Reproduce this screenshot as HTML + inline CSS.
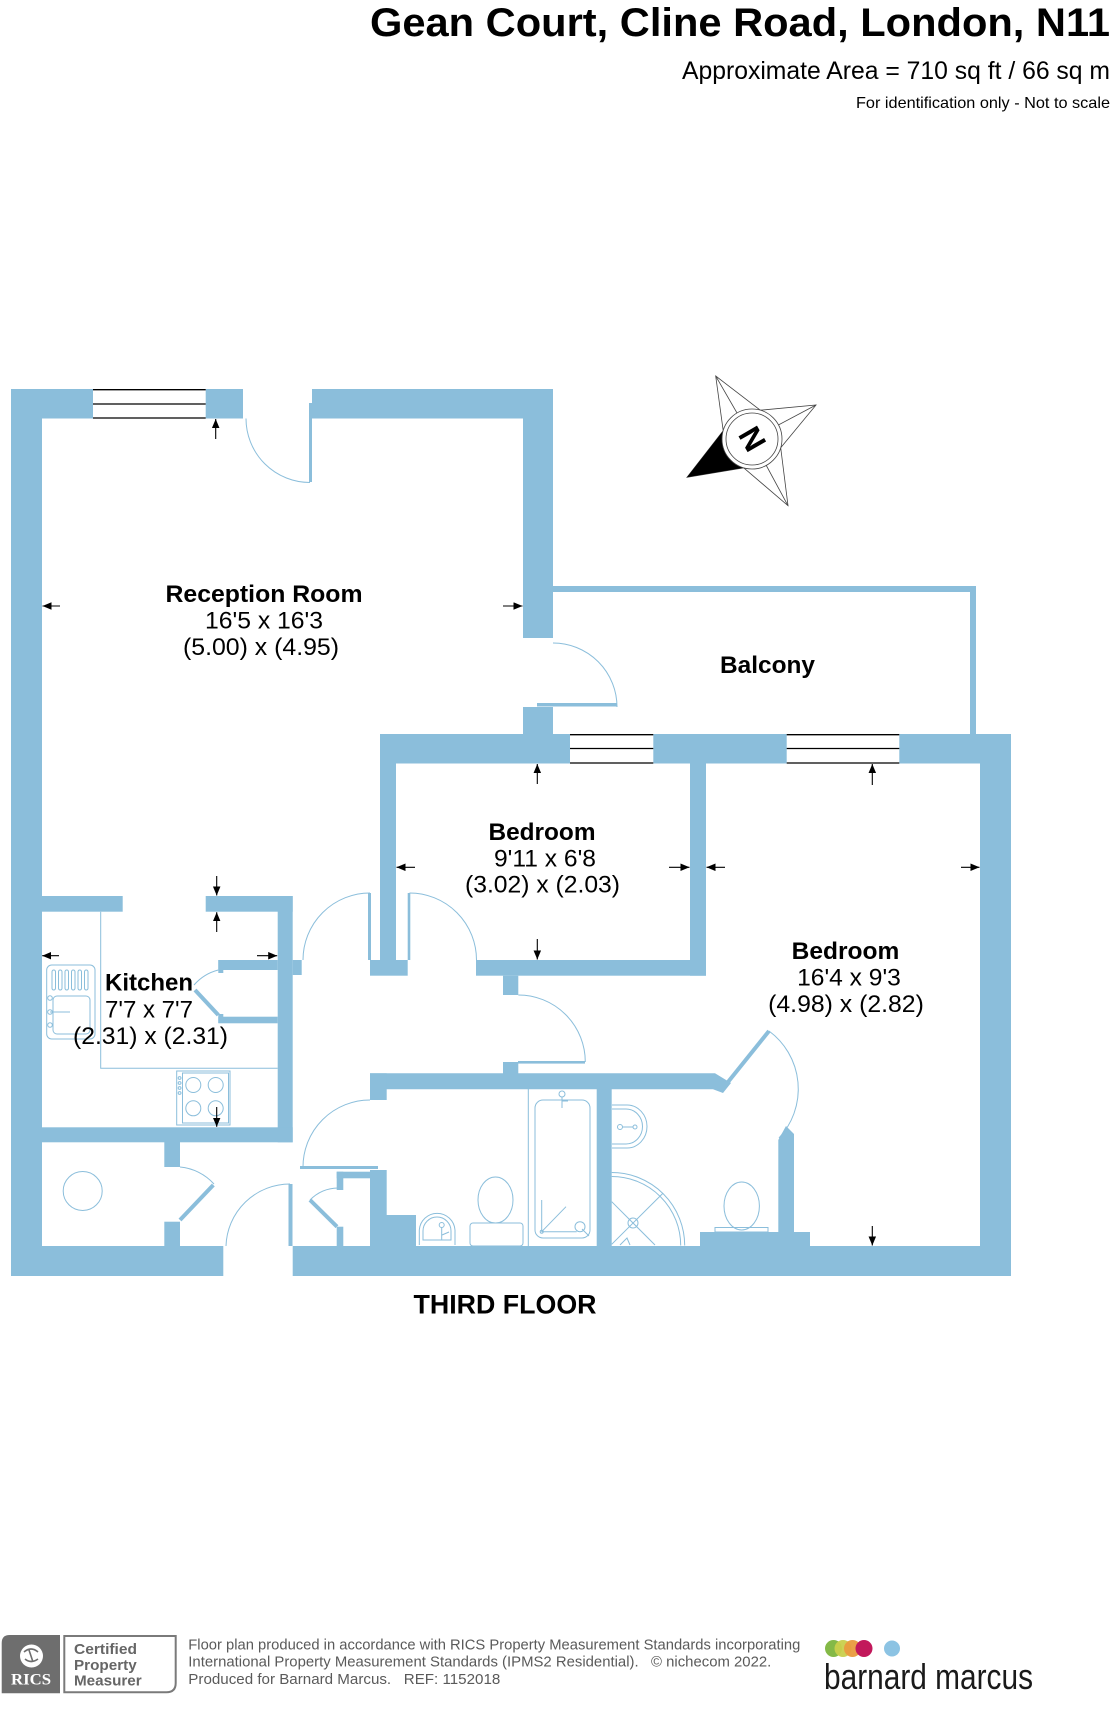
<!DOCTYPE html>
<html><head><meta charset="utf-8"><style>html,body{margin:0;padding:0;background:#fff}svg{display:block}</style></head>
<body>
<svg width="1120" height="1720" viewBox="0 0 1120 1720" xmlns="http://www.w3.org/2000/svg" font-family="'Liberation Sans', Arial, sans-serif">
<defs>
<marker id="ah" markerWidth="10" markerHeight="10" refX="9" refY="3.75" orient="auto" markerUnits="userSpaceOnUse"><path d="M0,0 L9,3.75 L0,7.5 z" fill="#000"/></marker>
</defs>
<rect width="1120" height="1720" fill="#fff"/>

<!-- Header -->
<text x="370" y="36" font-size="40" font-weight="bold" textLength="740" lengthAdjust="spacingAndGlyphs">Gean Court, Cline Road, London, N11</text>
<text x="682" y="79" font-size="25" textLength="428" lengthAdjust="spacingAndGlyphs">Approximate Area = 710 sq ft / 66 sq m</text>
<text x="856" y="108" font-size="16" textLength="254" lengthAdjust="spacingAndGlyphs">For identification only - Not to scale</text>

<!-- Walls -->
<g fill="#8bbedb">
  <rect x="11" y="389" width="31" height="887"/>
  <rect x="11" y="389" width="82" height="29.5"/>
  <rect x="205.7" y="389" width="37.3" height="29.5"/>
  <rect x="312" y="389" width="241" height="29.5"/>
  <rect x="309" y="403" width="3" height="79"/>
  <rect x="523" y="389" width="30" height="249"/>
  <rect x="537" y="703" width="80" height="3.5"/>
  <rect x="523" y="707" width="30" height="27"/>
  <rect x="553" y="586" width="423" height="6"/>
  <rect x="970" y="586" width="6" height="148"/>
  <rect x="380" y="734" width="190" height="29.5"/>
  <rect x="653.3" y="734" width="133.4" height="29.5"/>
  <rect x="899.3" y="734" width="111.7" height="29.5"/>
  <rect x="980" y="734" width="31" height="542"/>
  <rect x="11" y="1246" width="212.3" height="30"/>
  <rect x="292.7" y="1246" width="718.3" height="30"/>
  <!-- bedroom 1 -->
  <rect x="380" y="763" width="16" height="197"/>
  <rect x="370" y="960" width="37.7" height="15.7"/>
  <rect x="368" y="893" width="3" height="67"/>
  <rect x="407.7" y="893" width="2.6" height="67"/>
  <rect x="690" y="763" width="16" height="212.7"/>
  <rect x="476" y="960" width="230" height="15.7"/>
  <rect x="503" y="975.7" width="15.3" height="19.3"/>
  <rect x="518" y="1061" width="67" height="2.6"/>
  <rect x="503" y="1062" width="15.3" height="11.5"/>
  <!-- bathroom -->
  <polygon points="370,1073.3 715,1073.3 731,1083 723,1093 713,1089.3 370,1089.3"/>
  <polygon points="778.3,1140 786,1126 794,1134 794,1232 778.3,1232"/>
  <rect x="700" y="1232" width="110" height="14"/>
  <rect x="596.7" y="1089" width="15" height="157"/>
  <rect x="370" y="1073.3" width="16.7" height="26.7"/>
  <rect x="370" y="1170" width="16.7" height="76"/>
  <rect x="386" y="1215" width="30" height="31"/>
  <rect x="300" y="1166" width="78" height="3"/>
  <rect x="336.7" y="1171.7" width="41.6" height="6.6"/>
  <rect x="336.7" y="1171.7" width="6.6" height="18.3"/>
  <rect x="336.7" y="1226.7" width="6.6" height="19.3"/>
  <!-- kitchen -->
  <rect x="41.7" y="896" width="81" height="15.7"/>
  <rect x="205.7" y="896" width="87" height="15.7"/>
  <rect x="277.7" y="896" width="15" height="246.3"/>
  <rect x="292.7" y="960" width="9" height="15"/>
  <rect x="41.7" y="1127.3" width="251" height="15"/>
  <rect x="218.3" y="960" width="59.4" height="10"/>
  <rect x="218.3" y="960" width="5" height="13"/>
  <rect x="218.3" y="1016.7" width="59.4" height="6.6"/>
  <rect x="218.3" y="1014" width="5" height="9"/>
  <rect x="164.3" y="1142" width="15.7" height="25"/>
  <rect x="164.3" y="1221.7" width="15.7" height="24.3"/>
  <rect x="288.5" y="1184" width="4" height="62"/>
</g>
<g stroke="#8bbedb" stroke-width="4" fill="none">
  <line x1="724" y1="1087" x2="769" y2="1031"/>
  <line x1="195" y1="990" x2="218.3" y2="1015"/>
  <line x1="180" y1="1220" x2="213.3" y2="1185"/>
  <line x1="310" y1="1200" x2="337" y2="1226.7"/>
</g>

<!-- Windows -->
<g stroke="#000" stroke-width="1.3">
  <line x1="93" y1="389.7" x2="205.7" y2="389.7"/><line x1="93" y1="404" x2="205.7" y2="404"/><line x1="93" y1="418" x2="205.7" y2="418"/>
  <line x1="570" y1="734.7" x2="653.3" y2="734.7"/><line x1="570" y1="748.5" x2="653.3" y2="748.5"/><line x1="570" y1="763" x2="653.3" y2="763"/>
  <line x1="786.7" y1="734.7" x2="899.3" y2="734.7"/><line x1="786.7" y1="748.5" x2="899.3" y2="748.5"/><line x1="786.7" y1="763" x2="899.3" y2="763"/>
</g>

<!-- Door arcs & fixtures -->
<g stroke="#8bbedb" stroke-width="1" fill="none">
  <path d="M246 418.5 A64 64 0 0 0 310 482.5"/>
  <path d="M553 643 A64 64 0 0 1 617 707"/>
  <path d="M370 893 A67 67 0 0 0 303 960"/>
  <path d="M409.5 893 A67 67 0 0 1 476.5 960"/>
  <path d="M518.3 995 A67 67 0 0 1 585.3 1062"/>
  <path d="M769 1031 A72 72 0 0 1 779 1138"/>
  <path d="M370 1100 A67 67 0 0 0 303 1167"/>
  <path d="M310 1200 A40 40 0 0 1 338 1188"/>
  <path d="M218.3 970 A48 48 0 0 0 194 985"/>
  <path d="M180 1167 A52 52 0 0 1 214 1184"/>
  <path d="M290 1184 A64 64 0 0 0 226 1246"/>
  <!-- kitchen counter -->
  <path d="M100.7 911.7 V1068.3 H277.7"/>
  <!-- sink -->
  <rect x="46.7" y="965" width="48.3" height="74" rx="5"/>
  <rect x="52" y="970" width="3.5" height="20" rx="1.7"/>
  <rect x="58.5" y="970" width="3.5" height="20" rx="1.7"/>
  <rect x="65" y="970" width="3.5" height="20" rx="1.7"/>
  <rect x="71.5" y="970" width="3.5" height="20" rx="1.7"/>
  <rect x="78" y="970" width="3.5" height="20" rx="1.7"/>
  <rect x="84.5" y="970" width="3.5" height="20" rx="1.7"/>
  <rect x="53" y="996" width="37" height="38" rx="4"/>
  <circle cx="50" cy="998" r="2.3"/><circle cx="50" cy="1012" r="2.3"/><circle cx="50" cy="1025" r="2.3"/>
  <line x1="50" y1="1012" x2="70" y2="1012"/>
  <!-- stove -->
  <rect x="176.7" y="1071" width="53.3" height="54"/>
  <rect x="182.5" y="1073" width="46" height="50"/>
  <circle cx="193.3" cy="1085" r="7.5"/><circle cx="215.7" cy="1085" r="7.5"/>
  <circle cx="193.3" cy="1108.3" r="7.5"/><circle cx="215.7" cy="1108.3" r="7.5"/>
  <circle cx="179.6" cy="1078" r="1.4"/><circle cx="179.6" cy="1083" r="1.4"/><circle cx="179.6" cy="1088" r="1.4"/><circle cx="179.6" cy="1093" r="1.4"/>
  <!-- cylinder -->
  <circle cx="82.7" cy="1191" r="19.5"/>
  <!-- bath -->
  <line x1="528.3" y1="1089" x2="528.3" y2="1246"/>
  <rect x="535" y="1100" width="55" height="138" rx="8"/>
  <circle cx="562" cy="1094" r="3"/><line x1="562" y1="1097" x2="562" y2="1108"/><line x1="562" y1="1101" x2="568" y2="1101"/>
  <line x1="541.7" y1="1200" x2="541.7" y2="1231.7"/>
  <line x1="541.7" y1="1231.7" x2="576.7" y2="1231.7"/>
  <line x1="541.7" y1="1231.7" x2="566" y2="1206.7"/>
  <circle cx="541.7" cy="1231.7" r="1.5"/>
  <circle cx="580" cy="1226.7" r="5"/><line x1="582" y1="1229" x2="589" y2="1236"/>
  <!-- en-suite basin -->
  <path d="M612 1105 L627 1105 A20 21.5 0 0 1 627 1148 L612 1148"/>
  <path d="M612 1109 L626 1109 A16.5 17.5 0 0 1 626 1144 L612 1144"/>
  <circle cx="620" cy="1127" r="2.5"/><line x1="622" y1="1127" x2="633" y2="1127"/><circle cx="635" cy="1127" r="2"/>
  <!-- shower -->
  <path d="M611.7 1172.5 A73 73 0 0 1 684.7 1245.5"/>
  <path d="M611.7 1176.5 A69 69 0 0 1 680.7 1245.5"/>
  <line x1="611.7" y1="1201.7" x2="655" y2="1245"/>
  <line x1="611.7" y1="1244.3" x2="662.7" y2="1193.5"/>
  <circle cx="633" cy="1223" r="5"/>
  <path d="M620 1245 L627 1238 L630 1245"/>
  <!-- en-suite WC -->
  <ellipse cx="741.7" cy="1206" rx="17.7" ry="24"/>
  <rect x="715" y="1227.5" width="53" height="4.5"/>
  <!-- main WC -->
  <ellipse cx="495.5" cy="1200" rx="17.5" ry="23"/>
  <rect x="470" y="1223" width="53" height="23" rx="3"/>
  <!-- main basin -->
  <path d="M419.3 1245 V1230 A17.9 18 0 0 1 455 1230 V1245"/>
  <path d="M423 1240 V1231 A14 14 0 0 1 451 1231 V1240 Z"/>
  <circle cx="441.7" cy="1225" r="2.5"/><line x1="441.7" y1="1227" x2="441.7" y2="1240"/><line x1="442" y1="1235" x2="449" y2="1232"/>
</g>

<!-- Dimension arrows -->
<g stroke="#000" stroke-width="1.1" marker-end="url(#ah)">
  <line x1="215.7" y1="439" x2="215.7" y2="419"/>
  <line x1="60" y1="606" x2="42.5" y2="606"/>
  <line x1="503" y1="606" x2="522.5" y2="606"/>
  <line x1="216.7" y1="876" x2="216.7" y2="895.5"/>
  <line x1="216.7" y1="932" x2="216.7" y2="912.2"/>
  <line x1="59" y1="955.7" x2="42.2" y2="955.7"/>
  <line x1="257" y1="955.7" x2="277.2" y2="955.7"/>
  <line x1="216.7" y1="1107" x2="216.7" y2="1126.8"/>
  <line x1="537.3" y1="784" x2="537.3" y2="764"/>
  <line x1="537.3" y1="939" x2="537.3" y2="959.5"/>
  <line x1="415" y1="867.3" x2="396.5" y2="867.3"/>
  <line x1="669" y1="867.3" x2="689.5" y2="867.3"/>
  <line x1="725" y1="867.3" x2="706.5" y2="867.3"/>
  <line x1="961" y1="867.3" x2="979.5" y2="867.3"/>
  <line x1="872.3" y1="785" x2="872.3" y2="764"/>
  <line x1="872.3" y1="1226" x2="872.3" y2="1245.5"/>
</g>

<!-- Compass -->
<g>
  <polygon points="715.7,376 760.3,410.2 816,405 780.7,447.8 788,505.7 743.7,467.8 687,477.3 723.2,430.7" fill="#fff" stroke="#444" stroke-width="0.8"/>
  <line x1="715.7" y1="376" x2="752" y2="439" stroke="#444" stroke-width="0.8"/>
  <line x1="816" y1="405" x2="752" y2="439" stroke="#444" stroke-width="0.8"/>
  <line x1="788" y1="505.7" x2="752" y2="439" stroke="#444" stroke-width="0.8"/>
  <polygon points="687,477.3 743.7,467.8 752,439 723.2,430.7" fill="#000"/>
  <circle cx="752" cy="439" r="30" fill="#fff" stroke="#444" stroke-width="0.8"/>
  <circle cx="752" cy="439" r="26" fill="none" stroke="#444" stroke-width="0.8"/>
  <text transform="translate(752,439) rotate(-120)" x="0" y="11" font-size="31" font-weight="bold" text-anchor="middle">N</text>
</g>

<!-- Room labels -->
<g fill="#000" text-anchor="middle">
  <text x="264" y="602" font-size="24" font-weight="bold" textLength="197" lengthAdjust="spacingAndGlyphs">Reception Room</text>
  <text x="264" y="628.5" font-size="24" textLength="118" lengthAdjust="spacingAndGlyphs">16'5 x 16'3</text>
  <text x="261" y="655" font-size="24" textLength="156" lengthAdjust="spacingAndGlyphs">(5.00) x (4.95)</text>

  <text x="767.5" y="673" font-size="24" font-weight="bold" textLength="95" lengthAdjust="spacingAndGlyphs">Balcony</text>

  <text x="542" y="840" font-size="24" font-weight="bold" textLength="107" lengthAdjust="spacingAndGlyphs">Bedroom</text>
  <text x="545" y="866.7" font-size="24" textLength="102" lengthAdjust="spacingAndGlyphs">9'11 x 6'8</text>
  <text x="542.5" y="892.5" font-size="24" textLength="155" lengthAdjust="spacingAndGlyphs">(3.02) x (2.03)</text>

  <text x="149" y="990.7" font-size="24" font-weight="bold" textLength="88" lengthAdjust="spacingAndGlyphs">Kitchen</text>
  <text x="149" y="1017.7" font-size="24" textLength="88" lengthAdjust="spacingAndGlyphs">7'7 x 7'7</text>
  <text x="150.5" y="1044" font-size="24" textLength="155" lengthAdjust="spacingAndGlyphs">(2.31) x (2.31)</text>

  <text x="845.5" y="959" font-size="24" font-weight="bold" textLength="107.6" lengthAdjust="spacingAndGlyphs">Bedroom</text>
  <text x="849" y="985.5" font-size="24" textLength="103.7" lengthAdjust="spacingAndGlyphs">16'4 x 9'3</text>
  <text x="846" y="1012" font-size="24" textLength="155.7" lengthAdjust="spacingAndGlyphs">(4.98) x (2.82)</text>

  <text x="505" y="1313.3" font-size="27" font-weight="bold" textLength="183" lengthAdjust="spacingAndGlyphs">THIRD FLOOR</text>
</g>

<!-- Footer -->
<path d="M1.7 1643 Q1.7 1635 9.7 1635 H60 V1693.3 H1.7 Z" fill="#6e6e6e"/>
<circle cx="31.5" cy="1656" r="11.5" fill="#fff"/>
<path d="M24 1652 Q31 1646 38 1652 M25 1659 Q31 1664 38 1659 M29 1650 L33 1662" stroke="#6e6e6e" stroke-width="1.6" fill="none"/>
<text x="31" y="1684.5" font-family="'Liberation Serif', serif" font-size="16" font-weight="bold" fill="#fff" text-anchor="middle" textLength="40" lengthAdjust="spacingAndGlyphs">RICS</text>
<path d="M64.3 1636 H175.7 V1683 Q175.7 1692.3 166.4 1692.3 H64.3 Z" fill="#fff" stroke="#7a7a7a" stroke-width="2"/>
<g font-size="15" font-weight="bold" fill="#666">
  <text x="74" y="1654" textLength="63" lengthAdjust="spacingAndGlyphs">Certified</text>
  <text x="74" y="1670" textLength="62.7" lengthAdjust="spacingAndGlyphs">Property</text>
  <text x="74" y="1685.5" textLength="67.7" lengthAdjust="spacingAndGlyphs">Measurer</text>
</g>
<g font-size="15" fill="#5a5a5a">
  <text x="188.3" y="1649.5" textLength="612" lengthAdjust="spacingAndGlyphs">Floor plan produced in accordance with RICS Property Measurement Standards incorporating</text>
  <text x="188.3" y="1666.5" textLength="583" lengthAdjust="spacingAndGlyphs">International Property Measurement Standards (IPMS2 Residential).&#160;&#160;&#160;© nichecom 2022.</text>
  <text x="188.3" y="1684" textLength="312" lengthAdjust="spacingAndGlyphs">Produced for Barnard Marcus.&#160;&#160;&#160;REF: 1152018</text>
</g>
<circle cx="833.5" cy="1648.5" r="8.5" fill="#84b947"/>
<circle cx="843" cy="1648.5" r="8.5" fill="#c9cf4c" opacity="0.95"/>
<circle cx="852.5" cy="1648.5" r="8.5" fill="#e99a3e" opacity="0.95"/>
<circle cx="864" cy="1648.5" r="8.5" fill="#c2185b"/>
<circle cx="892" cy="1648.5" r="8" fill="#8cc3e3"/>
<text x="824" y="1689" font-size="36" fill="#1a1a1a" textLength="209" lengthAdjust="spacingAndGlyphs">barnard marcus</text>
</svg>
</body></html>
